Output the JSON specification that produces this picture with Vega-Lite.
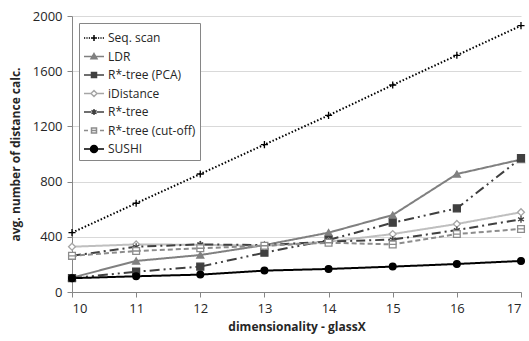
{
  "$schema": "https://vega.github.io/schema/vega-lite/v6.json",
  "autosize": "none",
  "width": 449,
  "height": 276,
  "padding": {"left": 72, "top": 16, "right": 8, "bottom": 49},
  "background": "white",
  "config": {
    "font": "Open Sans",
    "view": {"stroke": null},
    "axis": {
      "labelFont": "Open Sans",
      "labelFontSize": 13,
      "labelColor": "#262626",
      "titleFont": "Open Sans",
      "titleFontSize": 12,
      "titleFontWeight": "bold",
      "titleColor": "#262626",
      "domainColor": "#868686",
      "tickColor": "#868686",
      "gridColor": "#d9d9d9",
      "tickSize": 5
    },
    "legend": {
      "labelFont": "Open Sans",
      "labelFontSize": 12,
      "labelColor": "#262626",
      "orient": "top-left",
      "offset": 7,
      "padding": 4,
      "strokeColor": "#868686",
      "fillColor": "white",
      "symbolSize": 400,
      "symbolStrokeWidth": 1.5,
      "symbolOpacity": 1,
      "rowPadding": 1.5,
      "labelOffset": 3
    }
  },
  "datasets": {
    "series_domain": []
  },
  "data": {
    "values": [
      {"dim": 10, "series": "Seq. scan", "value": 430},
      {"dim": 11, "series": "Seq. scan", "value": 643},
      {"dim": 12, "series": "Seq. scan", "value": 855},
      {"dim": 13, "series": "Seq. scan", "value": 1068},
      {"dim": 14, "series": "Seq. scan", "value": 1280},
      {"dim": 15, "series": "Seq. scan", "value": 1500},
      {"dim": 16, "series": "Seq. scan", "value": 1715},
      {"dim": 17, "series": "Seq. scan", "value": 1930},
      {"dim": 10, "series": "LDR", "value": 104},
      {"dim": 11, "series": "LDR", "value": 225},
      {"dim": 12, "series": "LDR", "value": 268},
      {"dim": 13, "series": "LDR", "value": 340},
      {"dim": 14, "series": "LDR", "value": 430},
      {"dim": 15, "series": "LDR", "value": 558},
      {"dim": 16, "series": "LDR", "value": 855},
      {"dim": 17, "series": "LDR", "value": 960},
      {"dim": 10, "series": "R*-tree (PCA)", "value": 100},
      {"dim": 11, "series": "R*-tree (PCA)", "value": 147},
      {"dim": 12, "series": "R*-tree (PCA)", "value": 184},
      {"dim": 13, "series": "R*-tree (PCA)", "value": 285},
      {"dim": 14, "series": "R*-tree (PCA)", "value": 377},
      {"dim": 15, "series": "R*-tree (PCA)", "value": 502},
      {"dim": 16, "series": "R*-tree (PCA)", "value": 606},
      {"dim": 17, "series": "R*-tree (PCA)", "value": 970},
      {"dim": 10, "series": "iDistance", "value": 328},
      {"dim": 11, "series": "iDistance", "value": 345},
      {"dim": 12, "series": "iDistance", "value": 342},
      {"dim": 13, "series": "iDistance", "value": 335},
      {"dim": 14, "series": "iDistance", "value": 365},
      {"dim": 15, "series": "iDistance", "value": 420},
      {"dim": 16, "series": "iDistance", "value": 493},
      {"dim": 17, "series": "iDistance", "value": 578},
      {"dim": 10, "series": "R*-tree", "value": 262},
      {"dim": 11, "series": "R*-tree", "value": 328},
      {"dim": 12, "series": "R*-tree", "value": 345},
      {"dim": 13, "series": "R*-tree", "value": 340},
      {"dim": 14, "series": "R*-tree", "value": 365},
      {"dim": 15, "series": "R*-tree", "value": 380},
      {"dim": 16, "series": "R*-tree", "value": 449},
      {"dim": 17, "series": "R*-tree", "value": 527},
      {"dim": 10, "series": "R*-tree (cut-off)", "value": 262},
      {"dim": 11, "series": "R*-tree (cut-off)", "value": 297},
      {"dim": 12, "series": "R*-tree (cut-off)", "value": 317},
      {"dim": 13, "series": "R*-tree (cut-off)", "value": 335},
      {"dim": 14, "series": "R*-tree (cut-off)", "value": 357},
      {"dim": 15, "series": "R*-tree (cut-off)", "value": 345},
      {"dim": 16, "series": "R*-tree (cut-off)", "value": 420},
      {"dim": 17, "series": "R*-tree (cut-off)", "value": 457},
      {"dim": 10, "series": "SUSHI", "value": 100},
      {"dim": 11, "series": "SUSHI", "value": 114},
      {"dim": 12, "series": "SUSHI", "value": 126},
      {"dim": 13, "series": "SUSHI", "value": 155},
      {"dim": 14, "series": "SUSHI", "value": 167},
      {"dim": 15, "series": "SUSHI", "value": 184},
      {"dim": 16, "series": "SUSHI", "value": 203},
      {"dim": 17, "series": "SUSHI", "value": 225}
    ]
  },
  "encoding": {
    "x": {
      "field": "dim",
      "type": "quantitative",
      "scale": {"domain": [10, 17], "nice": false, "zero": false},
      "axis": {
        "values": [10, 11, 12, 13, 14, 15, 16, 17],
        "format": "d",
        "grid": false,
        "title": "dimensionality - glassX",
        "labelPadding": 5,
        "titlePadding": 6
      }
    },
    "y": {
      "field": "value",
      "type": "quantitative",
      "scale": {"domain": [0, 2000], "nice": false},
      "axis": {
        "values": [0, 400, 800, 1200, 1600, 2000],
        "format": "d",
        "grid": true,
        "title": "avg. number of distance calc.",
        "labelPadding": 5,
        "titlePadding": 10
      }
    }
  },
  "resolve": {
    "scale": {"stroke": "independent", "fill": "independent", "shape": "independent", "size": "independent", "strokeDash": "independent"}
  },
  "layer": [
    {
      "mark": {"type": "line", "strokeWidth": 2},
      "encoding": {
        "stroke": {
          "field": "series",
          "type": "nominal",
          "scale": {
            "domain": ["Seq. scan", "LDR", "R*-tree (PCA)", "iDistance", "R*-tree", "R*-tree (cut-off)", "SUSHI"],
            "range": ["#000000", "#808080", "#404040", "#bfbfbf", "#404040", "#8c8c8c", "#000000"]
          },
          "legend": null
        },
        "strokeDash": {
          "field": "series",
          "type": "nominal",
          "scale": {
            "domain": ["Seq. scan", "LDR", "R*-tree (PCA)", "iDistance", "R*-tree", "R*-tree (cut-off)", "SUSHI"],
            "range": [[1.5, 2], [1, 0], [10, 4, 2, 4, 2, 4], [1, 0], [9, 4, 2, 4], [5, 3], [1, 0]]
          },
          "legend": null
        }
      }
    },
    {
      "mark": {"type": "point", "filled": false, "strokeWidth": 1.3, "opacity": 1},
      "encoding": {
        "stroke": {
          "field": "series",
          "type": "nominal",
          "scale": {
            "domain": ["Seq. scan", "LDR", "R*-tree (PCA)", "iDistance", "R*-tree", "R*-tree (cut-off)", "SUSHI"],
            "range": ["#000000", "#808080", "#404040", "#a6a6a6", "#404040", "#8c8c8c", "#000000"]
          },
          "legend": null
        },
        "fill": {
          "field": "series",
          "type": "nominal",
          "scale": {
            "domain": ["Seq. scan", "LDR", "R*-tree (PCA)", "iDistance", "R*-tree", "R*-tree (cut-off)", "SUSHI"],
            "range": ["transparent", "#808080", "#404040", "#ffffff", "transparent", "#ffffff", "#000000"]
          },
          "legend": null
        },
        "shape": {
          "field": "series",
          "type": "nominal",
          "scale": {
            "domain": ["Seq. scan", "LDR", "R*-tree (PCA)", "iDistance", "R*-tree", "R*-tree (cut-off)", "SUSHI"],
            "range": ["M-1,0H1M0,-1V1", "triangle-up", "square", "diamond", "M0,-1V1M-0.87,-0.5L0.87,0.5M-0.87,0.5L0.87,-0.5", "M-1,-1H1V1H-1ZM-1,0H1", "circle"]
          },
          "legend": null
        },
        "size": {
          "field": "series",
          "type": "nominal",
          "scale": {
            "domain": ["Seq. scan", "LDR", "R*-tree (PCA)", "iDistance", "R*-tree", "R*-tree (cut-off)", "SUSHI"],
            "range": [50, 45, 36, 50, 45, 36, 80]
          },
          "legend": null
        }
      }
    },
    {
      "mark": {"type": "point", "filled": false, "strokeWidth": 1.5, "opacity": 0},
      "encoding": {
        "stroke": {
          "field": "series",
          "type": "nominal",
          "scale": {
            "domain": ["Seq. scan", "LDR", "R*-tree (PCA)", "iDistance", "R*-tree", "R*-tree (cut-off)", "SUSHI"],
            "range": ["#000000", "#808080", "#404040", "#a6a6a6", "#404040", "#8c8c8c", "#000000"]
          },
          "legend": {"title": null}
        },
        "fill": {
          "field": "series",
          "type": "nominal",
          "scale": {
            "domain": ["Seq. scan", "LDR", "R*-tree (PCA)", "iDistance", "R*-tree", "R*-tree (cut-off)", "SUSHI"],
            "range": ["transparent", "#808080", "#404040", "#ffffff", "transparent", "#ffffff", "#000000"]
          },
          "legend": {"title": null}
        },
        "shape": {
          "field": "series",
          "type": "nominal",
          "scale": {
            "domain": ["Seq. scan", "LDR", "R*-tree (PCA)", "iDistance", "R*-tree", "R*-tree (cut-off)", "SUSHI"],
            "range": [
              "M-1,0H-0.88M-0.76,0H-0.64M-0.52,0H-0.4M0.4,0H0.52M0.64,0H0.76M0.88,0H1M-0.3,0H0.3M0,-0.3V0.3",
              "M-1,0H1M0,-0.3L0.3,0.22H-0.3Z",
              "M-1,0H1M-0.25,-0.25H0.25V0.25H-0.25Z",
              "M-1,0H-0.3M0.3,0H1M-0.3,0L0,-0.3L0.3,0L0,0.3Z",
              "M-1,0H-0.3M0.3,0H1M0,-0.3V0.3M-0.26,-0.15L0.26,0.15M-0.26,0.15L0.26,-0.15",
              "M-1,0H-0.6M0.6,0H1M-0.25,-0.25H0.25V0.25H-0.25ZM-0.25,0H0.25",
              "M-1,0H1M-0.35,0A0.35,0.35,0,1,1,0.35,0A0.35,0.35,0,1,1,-0.35,0Z"
            ]
          },
          "legend": {"title": null}
        }
      }
    }
  ]
}
